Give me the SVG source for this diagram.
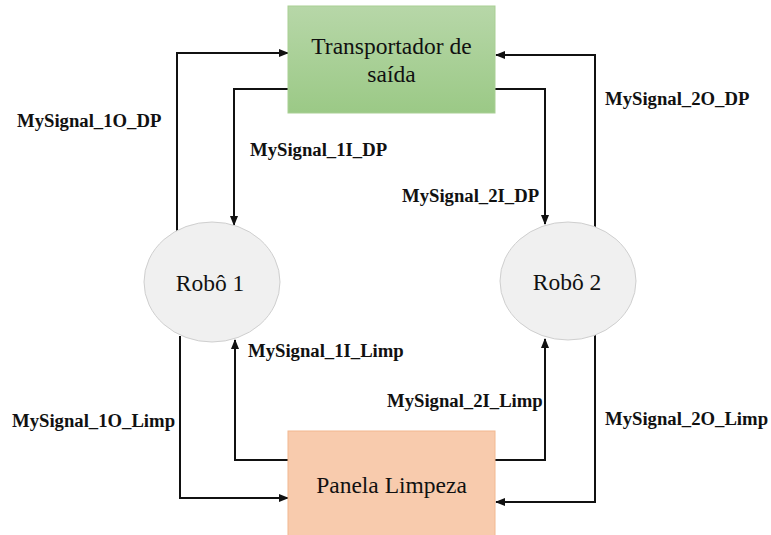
<svg xmlns="http://www.w3.org/2000/svg" width="771" height="535" viewBox="0 0 771 535">
  <style>
    .node-text { font-family: "Liberation Serif", "Times New Roman", serif; font-size: 23.5px; fill: #111; text-anchor: middle; }
    .sig { font-family: "Liberation Serif", "Times New Roman", serif; font-size: 18.7px; font-weight: bold; fill: #111; }
    .wire { fill: none; stroke: #111; stroke-width: 2; marker-end: url(#arrow); }
    .robot { fill: #f0f0f0; stroke: #cfcfcf; stroke-width: 1; }
  </style>
  <defs>
    <linearGradient id="greenFill" x1="0" y1="0" x2="0" y2="1">
      <stop offset="0" stop-color="#b7d7a8"/>
      <stop offset="1" stop-color="#9bc986"/>
    </linearGradient>
    <marker id="arrow" markerUnits="userSpaceOnUse" markerWidth="10" markerHeight="10" viewBox="0 0 10 10" refX="9" refY="5" orient="auto">
      <path d="M0,1 L10,5 L0,9 Z" fill="#111"/>
    </marker>
  </defs>

  <rect width="771" height="535" fill="#ffffff"/>

  <!-- connectors -->
  <g id="connectors">
    <path class="wire" d="M177,231 V53 H288"/>
    <path class="wire" d="M288,89 H234 V225"/>
    <path class="wire" d="M495,89 H545 V224"/>
    <path class="wire" d="M595,227 V55 H496"/>
    <path class="wire" d="M180,336 V498 H288"/>
    <path class="wire" d="M288,460 H235 V340"/>
    <path class="wire" d="M495,460 H545 V339"/>
    <path class="wire" d="M595,335 V502 H496"/>
  </g>

  <!-- signal labels -->
  <g id="labels">
    <text class="sig" x="17" y="127">MySignal_1O_DP</text>
    <text class="sig" x="250" y="156">MySignal_1I_DP</text>
    <text class="sig" x="402" y="202">MySignal_2I_DP</text>
    <text class="sig" x="605" y="105">MySignal_2O_DP</text>
    <text class="sig" x="248" y="357">MySignal_1I_Limp</text>
    <text class="sig" x="387" y="407">MySignal_2I_Limp</text>
    <text class="sig" x="12" y="427">MySignal_1O_Limp</text>
    <text class="sig" x="605" y="425">MySignal_2O_Limp</text>
  </g>

  <g id="transportador">
    <rect x="288" y="6" width="207" height="107" fill="url(#greenFill)" stroke="#a9cf94" stroke-width="1"/>
    <text class="node-text" x="391.5" y="54">Transportador de</text>
    <text class="node-text" x="391.5" y="82">saída</text>
  </g>

  <g id="robo1">
    <ellipse class="robot" cx="212" cy="282" rx="68" ry="60"/>
    <text class="node-text" x="210" y="291">Robô 1</text>
  </g>

  <g id="robo2">
    <ellipse class="robot" cx="568" cy="281" rx="68" ry="59"/>
    <text class="node-text" x="567" y="290">Robô 2</text>
  </g>

  <g id="panela">
    <rect x="288" y="431" width="207" height="106" fill="#f8cbad" stroke="#f2b890" stroke-width="1"/>
    <text class="node-text" x="391.5" y="493">Panela Limpeza</text>
  </g>
</svg>
